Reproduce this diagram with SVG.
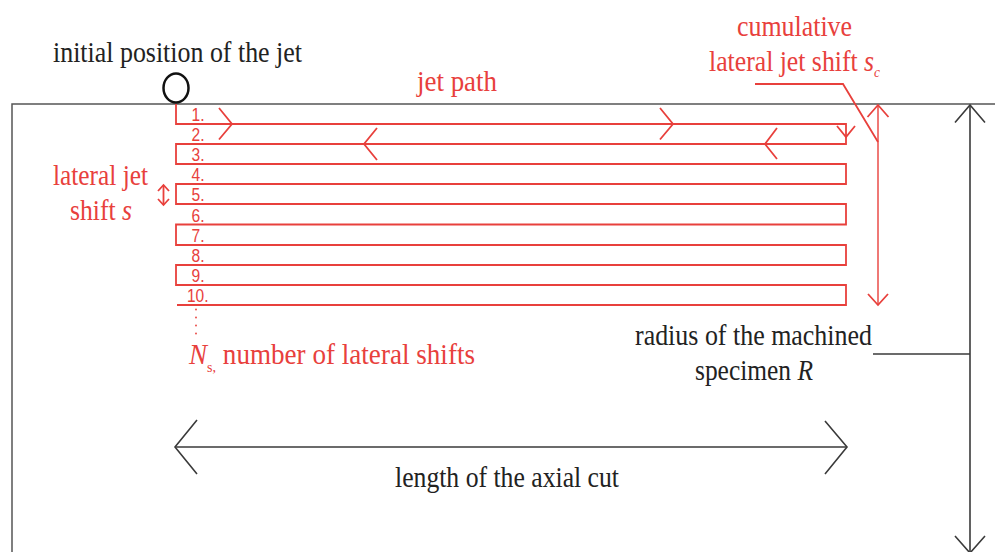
<svg xmlns="http://www.w3.org/2000/svg" width="995" height="552" viewBox="0 0 995 552">
<style>
.bk{fill:none;stroke:#3a3a3a;stroke-width:1.6;stroke-linejoin:miter}
.rd{fill:none;stroke:#e8403c;stroke-width:1.8}
.rdt{fill:none;stroke:#e8403c;stroke-width:1.4}
.tb{font-size:29px;fill:#222}
.tr{font-size:29px;fill:#e8403c}
.it{font-style:italic}
.num{font-size:18px;fill:#e8403c}
</style>
<rect width="995" height="552" fill="#fff"/>
<g id="specimen">
<path d="M12,552 V104 H995" fill="none" stroke="#555" stroke-width="1.5"/>
</g>
<g font-family="'Liberation Serif', 'DejaVu Serif', serif">
<g id="jet-start">
<ellipse cx="176" cy="88" rx="12.5" ry="14.5" fill="none" stroke="#111" stroke-width="2.5"/>
<text class="tb" x="53" y="61.5" textLength="249" lengthAdjust="spacingAndGlyphs">initial position of the jet</text>
</g>
<g id="jet-path">
<path class="rd" d="M176,104 V124 H846 V144 H176 V164 H846 V184 H176 V204 H846 V224.5 H176 V245 H846 V265 H176 V285 H846 V305 H177"/>
<text class="tr" x="417" y="90.5" textLength="80" lengthAdjust="spacingAndGlyphs">jet path</text>
<g class="num" font-family="'Liberation Sans', Arial, sans-serif">
<text x="191.5" y="121" textLength="13" lengthAdjust="spacingAndGlyphs">1.</text>
<text x="191.5" y="141" textLength="13" lengthAdjust="spacingAndGlyphs">2.</text>
<text x="191.5" y="161.3" textLength="13" lengthAdjust="spacingAndGlyphs">3.</text>
<text x="191.5" y="181.3" textLength="13" lengthAdjust="spacingAndGlyphs">4.</text>
<text x="191.5" y="201.3" textLength="13" lengthAdjust="spacingAndGlyphs">5.</text>
<text x="191.5" y="221.5" textLength="13" lengthAdjust="spacingAndGlyphs">6.</text>
<text x="191.5" y="242" textLength="13" lengthAdjust="spacingAndGlyphs">7.</text>
<text x="191.5" y="262" textLength="13" lengthAdjust="spacingAndGlyphs">8.</text>
<text x="191.5" y="282" textLength="13" lengthAdjust="spacingAndGlyphs">9.</text>
<text x="187" y="302" textLength="21.5" lengthAdjust="spacingAndGlyphs">10.</text>
</g>
<g fill="#e8403c">
<circle cx="196" cy="309.5" r="0.9"/>
<circle cx="196" cy="317.5" r="0.9"/>
<circle cx="196" cy="325.5" r="0.9"/>
<circle cx="196" cy="333.5" r="0.9"/>
</g>
</g>
<g id="lateral-shift">
<text class="tr" x="53" y="185" textLength="95" lengthAdjust="spacingAndGlyphs">lateral jet</text>
<text class="tr" x="70" y="220" textLength="62" lengthAdjust="spacingAndGlyphs">shift <tspan class="it">s</tspan></text>
</g>
<g id="cumulative-shift">
<text class="tr" x="737" y="36" textLength="115" lengthAdjust="spacingAndGlyphs">cumulative</text>
<text class="tr" x="709" y="70.5" textLength="171" lengthAdjust="spacingAndGlyphs">lateral jet shift <tspan class="it">s</tspan><tspan class="it" font-size="15" dy="6.5">c</tspan></text>
</g>
<g id="number-of-shifts">
<text class="tr" x="189" y="364" textLength="286" lengthAdjust="spacingAndGlyphs"><tspan class="it">N</tspan><tspan font-size="15" dy="8">s,</tspan><tspan dy="-8"> number of lateral shifts</tspan></text>
</g>
<g id="radius">
<text class="tb" x="635" y="345" textLength="237" lengthAdjust="spacingAndGlyphs">radius of the machined</text>
<text class="tb" x="695" y="380" textLength="118" lengthAdjust="spacingAndGlyphs">specimen <tspan class="it">R</tspan></text>
</g>
<g id="axial-length">
<text class="tb" x="395" y="487" textLength="224" lengthAdjust="spacingAndGlyphs">length of the axial cut</text>
</g>
</g>
<g id="connectors">
<polyline class="rd" points="219,108 232,124 219,139.5"/>
<polyline class="rd" points="660,108 673,124 660,139.5"/>
<polyline class="rd" points="377,128 364,144 377,160"/>
<polyline class="rd" points="777,128 765,144 777,159"/>
<polyline class="rd" points="837,126 846,137 855,126"/>
<line class="rd" x1="163.5" y1="185" x2="163.5" y2="205"/>
<polyline class="rd" points="158,191 163.5,185 169,191"/>
<polyline class="rd" points="158,199 163.5,205 169,199"/>
<line class="rdt" x1="878" y1="105" x2="878" y2="305"/>
<polyline class="rd" points="867.5,117 878,105 888.5,117"/>
<polyline class="rd" points="868,294 878,305 888,294"/>
<polyline class="rd" points="755,84 843,84 878,142"/>
<line class="bk" x1="970" y1="105" x2="970" y2="553"/>
<polyline class="bk" points="955,122.5 970,105 985,122.5"/>
<polyline class="bk" points="955,536 970,553 985,536"/>
<line class="bk" x1="873" y1="354" x2="970" y2="354"/>
<line class="bk" x1="175" y1="447" x2="847" y2="447"/>
<polyline class="bk" points="197,420 175,447 197,474"/>
<polyline class="bk" points="825,421 847,447 825,474"/>
</g>
</svg>
